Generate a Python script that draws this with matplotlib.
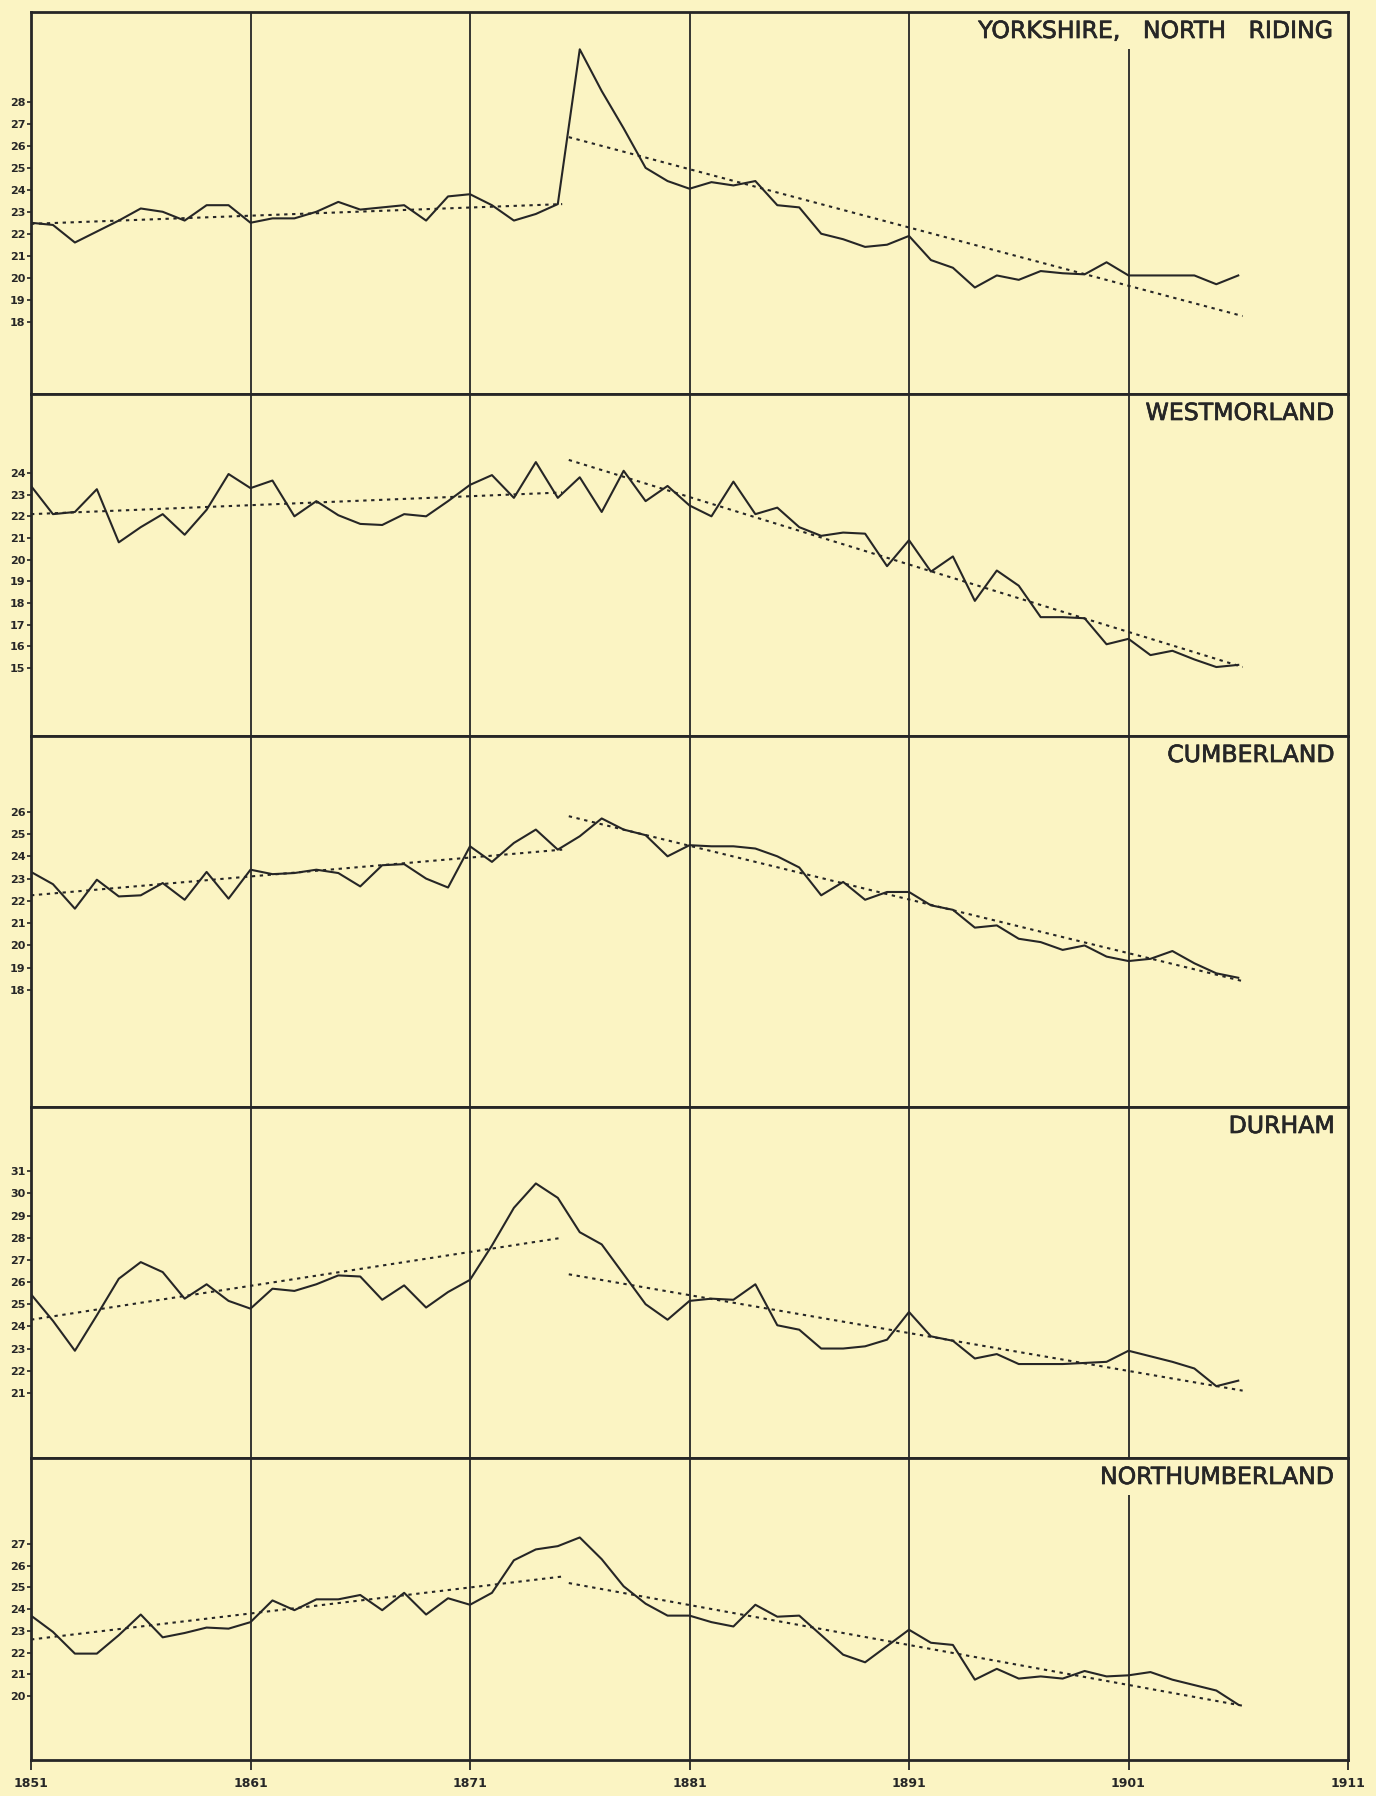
import matplotlib
matplotlib.use('Agg')
import matplotlib.pyplot as plt
import matplotlib.patheffects as pe

# years 1851 .. 1906, one value per year
years = list(range(1851, 1907))

yorkshire_nr = [22.5, 22.4, 21.6, 22.1, 22.6, 23.15, 23.0, 22.6, 23.3, 23.3,
                22.5, 22.7, 22.7, 23.0, 23.45, 23.1, 23.2, 23.3, 22.6, 23.7,
                23.8, 23.3, 22.6, 22.9, 23.35, 30.4, 28.5, 26.8, 25.0, 24.4,
                24.05, 24.35, 24.2, 24.4, 23.3, 23.2, 22.0, 21.75, 21.4, 21.5,
                21.9, 20.8, 20.45, 19.55, 20.1, 19.9, 20.3, 20.2, 20.15, 20.7,
                20.1, 20.1, 20.1, 20.1, 19.7, 20.1]

westmorland = [23.4, 22.1, 22.2, 23.25, 20.8, 21.5, 22.1, 21.15, 22.3, 23.95,
               23.3, 23.65, 22.0, 22.7, 22.05, 21.65, 21.6, 22.1, 22.0, 22.7,
               23.45, 23.9, 22.85, 24.5, 22.85, 23.8, 22.2, 24.1, 22.7, 23.4,
               22.5, 22.0, 23.6, 22.1, 22.4, 21.5, 21.1, 21.25, 21.2, 19.7,
               20.9, 19.45, 20.15, 18.1, 19.5, 18.8, 17.35, 17.35, 17.3, 16.1,
               16.35, 15.6, 15.8, 15.4, 15.05, 15.15]

cumberland = [23.3, 22.75, 21.65, 22.95, 22.2, 22.25, 22.8, 22.05, 23.3, 22.1,
              23.4, 23.2, 23.25, 23.4, 23.25, 22.65, 23.6, 23.65, 23.0, 22.6,
              24.45, 23.75, 24.6, 25.2, 24.3, 24.9, 25.7, 25.2, 24.95, 24.0,
              24.5, 24.45, 24.45, 24.35, 24.0, 23.5, 22.25, 22.85, 22.05, 22.4,
              22.4, 21.8, 21.6, 20.8, 20.9, 20.3, 20.15, 19.8, 20.0, 19.5,
              19.3, 19.4, 19.75, 19.2, 18.75, 18.55]

durham = [25.45, 24.25, 22.9, 24.5, 26.15, 26.9, 26.45, 25.25, 25.9, 25.15,
          24.8, 25.7, 25.6, 25.9, 26.3, 26.25, 25.2, 25.85, 24.85, 25.55,
          26.1, 27.65, 29.35, 30.45, 29.8, 28.25, 27.7, 26.35, 25.0, 24.3,
          25.15, 25.25, 25.2, 25.9, 24.05, 23.85, 23.0, 23.0, 23.1, 23.4,
          24.65, 23.55, 23.35, 22.55, 22.75, 22.3, 22.3, 22.3, 22.35, 22.4,
          22.9, 22.65, 22.4, 22.1, 21.3, 21.55]

northumberland = [23.7, 22.95, 21.95, 21.95, 22.8, 23.75, 22.7, 22.9, 23.15, 23.1,
                  23.4, 24.4, 23.95, 24.45, 24.45, 24.65, 23.95, 24.75, 23.75, 24.5,
                  24.2, 24.75, 26.25, 26.75, 26.9, 27.3, 26.3, 25.05, 24.25, 23.7,
                  23.7, 23.4, 23.2, 24.2, 23.65, 23.7, 22.8, 21.9, 21.55, 22.3,
                  23.05, 22.45, 22.35, 20.75, 21.25, 20.8, 20.9, 20.8, 21.15, 20.9,
                  20.95, 21.1, 20.75, 20.5, 20.25, 19.6]

# dotted trend lines: early period and late period (start value, end value)
trend_years_early = [1851, 1875.2]
trend_years_late = [1875.5, 1906.2]
trend_early = {
    'yorkshire': [22.45, 23.35],
    'westmorland': [22.1, 23.1],
    'cumberland': [22.25, 24.3],
    'durham': [24.3, 28.0],
    'northumberland': [22.6, 25.5],
}
trend_late = {
    'yorkshire': [26.4, 18.25],
    'westmorland': [24.6, 15.05],
    'cumberland': [25.8, 18.4],
    'durham': [26.35, 21.1],
    'northumberland': [25.2, 19.55],
}

panel_keys = ['yorkshire', 'westmorland', 'cumberland', 'durham', 'northumberland']
panel_titles = ['YORKSHIRE,   NORTH   RIDING', 'WESTMORLAND', 'CUMBERLAND',
                'DURHAM', 'NORTHUMBERLAND']
panel_series = [yorkshire_nr, westmorland, cumberland, durham, northumberland]
panel_ticks = [range(18, 29), range(15, 25), range(18, 27), range(21, 32), range(20, 28)]
decades = [1851, 1861, 1871, 1881, 1891, 1901, 1911]

# page layout (pixels)
W, H = 1376, 1796
left_px, right_px = 31, 1348
edges_px = [12, 394, 736, 1107, 1458, 1760]
ylims = [(14.7, 32.1), (11.87, 27.64), (12.75, 29.4), (18.06, 33.9), (17.05, 30.96)]

paper = '#fbf4c3'
ink = '#262626'

fig = plt.figure(figsize=(W / 100, H / 100), dpi=100, facecolor=paper)

for i, key in enumerate(panel_keys):
    top, bottom = edges_px[i], edges_px[i + 1]
    ax = fig.add_axes([left_px / W, 1 - bottom / H, (right_px - left_px) / W, (bottom - top) / H])
    ax.set_facecolor(paper)
    ax.set_xlim(1851, 1911)
    ax.set_ylim(*ylims[i])

    # decade lines
    for d in decades[1:-1]:
        ax.axvline(d, color=ink, lw=1.3, zorder=1)

    ax.plot(trend_years_early, trend_early[key], color=ink, lw=1.5,
            linestyle=(0, (1.6, 2.2)), zorder=2)
    ax.plot(trend_years_late, trend_late[key], color=ink, lw=1.5,
            linestyle=(0, (1.6, 2.2)), zorder=2)
    ax.plot(years, panel_series[i], color=ink, lw=1.5, zorder=3)

    ax.annotate(panel_titles[i], xy=(1, 1), xycoords='axes fraction',
                xytext=(-13, -7), textcoords='offset pixels',
                ha='right', va='top', fontsize=17,
                family='DejaVu Sans', color=ink, zorder=5,
                path_effects=[pe.withStroke(linewidth=0.5, foreground=ink)],
                bbox=dict(boxstyle='square,pad=0.25', fc=paper, ec='none'))

    for s in ax.spines.values():
        s.set_color(ink)
        s.set_linewidth(2.0)
        s.set_zorder(6)

    ax.set_yticks(list(panel_ticks[i]))
    ax.set_yticklabels([str(v) for v in panel_ticks[i]], fontsize=8,
                       fontweight='bold', color=ink)
    ax.tick_params(axis='y', direction='out', length=3, width=1.2, pad=1, colors=ink)

    ax.set_xticks(decades)
    if i == len(panel_keys) - 1:
        ax.set_xticklabels([str(d) for d in decades], fontsize=9,
                           fontweight='bold', color=ink)
        ax.tick_params(axis='x', direction='out', length=7, width=1.3, pad=5, colors=ink)
    else:
        ax.set_xticklabels([])
        ax.tick_params(axis='x', length=0)

fig.savefig('out.png', dpi=100, facecolor=paper)
